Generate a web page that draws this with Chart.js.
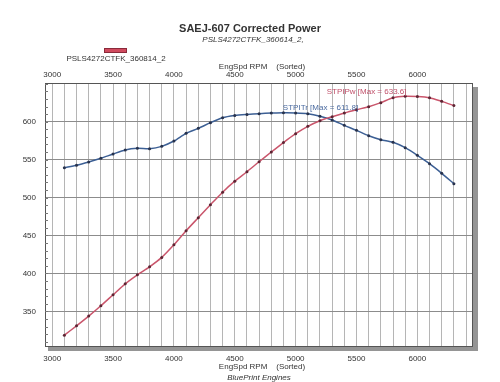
<!DOCTYPE html>
<html>
<head>
<meta charset="utf-8">
<script src="https://cdn.jsdelivr.net/npm/chart.js@4.4.1/dist/chart.umd.min.js"></script>
<style>
  html, body { margin: 0; padding: 0; background: #fff; }
  #wrap { width: 500px; height: 382px; }
</style>
</head>
<body>
<div id="wrap"><canvas id="chart" width="500" height="382"></canvas></div>
<script>
(() => {
  "use strict";

  // ── Data read from the dyno sheet ───────────────────────────────────────
  const RPM = [
    3100, 3200, 3300, 3400, 3500, 3600, 3700, 3800, 3900, 4000, 4100,
    4200, 4300, 4400, 4500, 4600, 4700, 4800, 4900, 5000, 5100, 5200,
    5300, 5400, 5500, 5600, 5700, 5800, 5900, 6000, 6100, 6200, 6300,
  ];
  const TORQUE = [
    539.3, 542.5, 546.8, 551.7, 557.4, 562.7, 564.9, 564.4, 567.5, 574.5, 584.7,
    591.2, 598.7, 605.3, 608.2, 609.6, 610.6, 611.3, 611.8, 611.6, 610.6, 607.3,
    602.2, 595.2, 588.6, 581.5, 576.3, 572.8, 565.7, 555.7, 544.6, 531.9, 518.2,
  ];
  const POWER = [
    318.6, 330.9, 343.7, 357.3, 371.8, 386.3, 398.2, 408.7, 421.1, 437.7, 456.2,
    473.4, 490.5, 507.1, 521.6, 534.0, 547.2, 560.0, 572.5, 584.2, 593.9, 601.3,
    606.6, 611.5, 615.8, 619.8, 625.1, 631.6, 633.6, 633.2, 631.6, 626.8, 621.3,
  ];
  const X_LABELS = [3000, 3500, 4000, 4500, 5000, 5500, 6000];
  const Y_LABELS = [350, 400, 450, 500, 550, 600];

  const TITLE = "SAEJ-607 Corrected Power";
  const SUBTITLE = "PSLS4272CTFK_360614_2,";
  const LEGEND = "PSLS4272CTFK_360814_2";
  const X_TITLE = "EngSpd RPM    (Sorted)";
  const FOOTER = "BluePrint Engines";
  const PW_NOTE = "STPIPw [Max = 633.6]";
  const TR_NOTE = "STPITr [Max = 611.8]";

  const FONT = "'Liberation Sans', Arial, sans-serif";
  const RED = "#c9556b";
  const BLUE = "#3c5f94";

  // gridlines every 100 rpm, labels every 500
  const xGrid = [];
  for (let v = 3000; v <= 6400; v += 100) xGrid.push(v);

  const pts = (ys) => RPM.map((x, i) => ({ x, y: ys[i] }));

  // ── Extra drawing: header, legend, notes, shadow, minor ticks ──────────
  const decor = {
    id: "decor",
    beforeDraw(chart) {
      const { ctx, chartArea: a } = chart;
      ctx.save();
      ctx.fillStyle = "#fff";
      ctx.fillRect(0, 0, chart.width, chart.height);
      // drop shadow of the plot frame
      ctx.fillStyle = "#959595";
      ctx.fillRect(a.right, a.top + 4, 5, a.bottom - a.top);
      ctx.fillRect(a.left + 3, a.bottom, a.right - a.left + 2, 4);
      ctx.restore();
    },
    afterDraw(chart) {
      const { ctx, chartArea: a, scales } = chart;
      const x = scales.x, y = scales.y;
      const cx = (a.left + a.right) / 2 + 1;
      ctx.save();

      // frame
      ctx.strokeStyle = "#555";
      ctx.lineWidth = 1;
      ctx.strokeRect(a.left + 0.5, a.top + 0.5, a.right - a.left - 1, a.bottom - a.top - 1);

      // minor ticks on the left axis
      ctx.strokeStyle = "#777";
      ctx.beginPath();
      for (let v = 310; v <= 650; v += 10) {
        const py = Math.round(y.getPixelForValue(v)) + 0.5;
        ctx.moveTo(a.left, py);
        ctx.lineTo(a.left + 3, py);
      }
      ctx.stroke();

      ctx.textAlign = "center";
      ctx.textBaseline = "middle";

      ctx.fillStyle = "#333";
      ctx.font = "bold 11px " + FONT;
      ctx.fillText(TITLE, 250, 29);
      ctx.font = "italic 8px " + FONT;
      ctx.fillText(SUBTITLE, 253, 40);

      // legend
      ctx.fillStyle = "#d04a5e";
      ctx.fillRect(104, 48, 23, 5);
      ctx.strokeStyle = "#8a2a3a";
      ctx.strokeRect(104.5, 48.5, 22, 4);
      ctx.fillStyle = "#333";
      ctx.font = "8px " + FONT;
      ctx.fillText(LEGEND, 116, 59);

      // axis titles
      ctx.fillText(X_TITLE, cx + 2, 67);
      ctx.fillText(X_TITLE, cx + 2, 367);
      ctx.font = "italic 8px " + FONT;
      ctx.fillText(FOOTER, cx - 1, 378);

      // max notes
      ctx.font = "8px " + FONT;
      ctx.textAlign = "left";
      ctx.fillStyle = "#c0506a";
      ctx.fillText(PW_NOTE, x.getPixelForValue(5255), y.getPixelForValue(639));
      ctx.fillStyle = "#4a6aa0";
      ctx.fillText(TR_NOTE, x.getPixelForValue(4895), y.getPixelForValue(618));

      ctx.restore();
    },
  };

  const tickFont = { family: FONT, size: 8 };

  new Chart(document.getElementById("chart"), {
    type: "line",
    data: {
      datasets: [
        {
          label: "STPIPw",
          data: pts(POWER),
          borderColor: RED,
          borderWidth: 1.5,
          pointRadius: 1.5,
          pointBackgroundColor: "#5e2433",
          pointBorderWidth: 0,
          tension: 0.25,
        },
        {
          label: "STPITr",
          data: pts(TORQUE),
          borderColor: BLUE,
          borderWidth: 1.5,
          pointRadius: 1.5,
          pointBackgroundColor: "#27324d",
          pointBorderWidth: 0,
          tension: 0.25,
        },
      ],
    },
    options: {
      responsive: false,
      animation: false,
      events: [],
      layout: { padding: { left: 0, right: 27, top: 0, bottom: 0 } },
      plugins: {
        legend: { display: false },
        title: { display: false },
        tooltip: { enabled: false },
      },
      scales: {
        x: {
          type: "linear",
          position: "bottom",
          min: 2941,
          max: 6457,
          afterBuildTicks: (s) => { s.ticks = xGrid.map((v) => ({ value: v })); },
          afterFit: (s) => { s.height = 35; },
          ticks: {
            autoSkip: false,
            maxRotation: 0,
            padding: 7,
            color: "#333",
            font: tickFont,
            callback: (v) => (X_LABELS.includes(v) ? String(v) : ""),
          },
          grid: { color: "#b5b5b5", lineWidth: 1, drawTicks: false },
          border: { display: false },
        },
        xTop: {
          type: "linear",
          position: "top",
          min: 2941,
          max: 6457,
          afterBuildTicks: (s) => { s.ticks = X_LABELS.map((v) => ({ value: v })); },
          afterFit: (s) => { s.height = 83; },
          ticks: {
            autoSkip: false,
            maxRotation: 0,
            padding: 3,
            color: "#333",
            font: tickFont,
            callback: (v) => String(v),
          },
          grid: { display: false, drawTicks: false },
          border: { display: false },
        },
        y: {
          min: 303,
          max: 651,
          afterBuildTicks: (s) => { s.ticks = Y_LABELS.map((v) => ({ value: v })); },
          afterFit: (s) => { s.width = 45; },
          ticks: {
            padding: 9,
            color: "#333",
            font: tickFont,
          },
          grid: { color: "#8c8c8c", lineWidth: 1, drawTicks: false },
          border: { display: false },
        },
      },
    },
    plugins: [decor],
  });
})();
</script>
</body>
</html>
